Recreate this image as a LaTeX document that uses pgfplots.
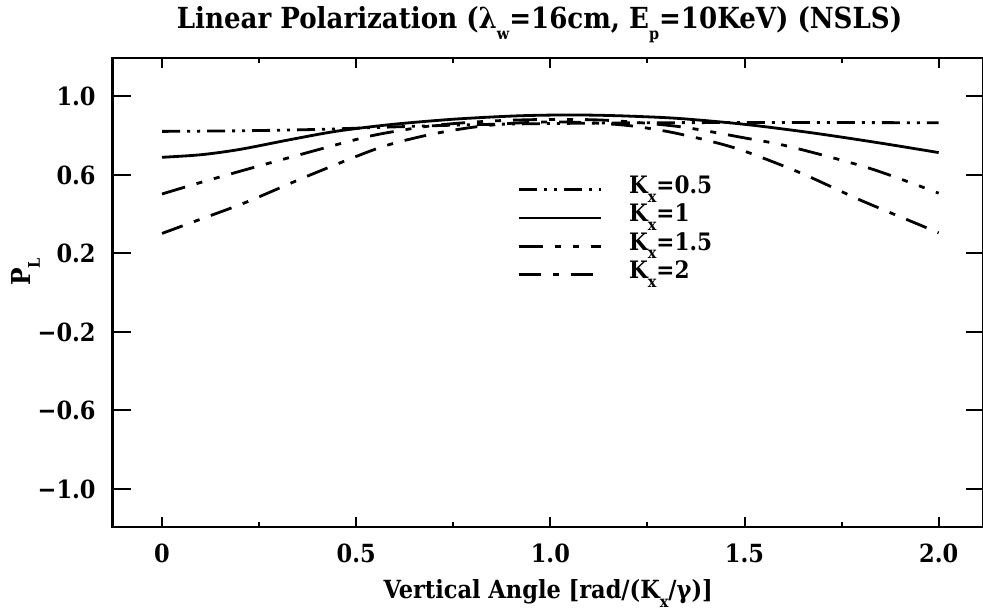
\documentclass[border=0pt]{standalone}
\usepackage{fontspec}
\setmainfont{DejaVu Serif Condensed}
\usepackage{pgfplots}
\pgfplotsset{compat=1.18}
\newcommand{\sub}[1]{\raisebox{-0.7ex}{\footnotesize #1}}
\begin{document}
\bfseries
\begin{tikzpicture}
\begin{axis}[name=ax, scale only axis, width=435.5pt, height=234.5pt,
  xmin=-0.127, xmax=2.116, ymin=-1.194, ymax=1.196,
  axis line style={line width=1.3pt},
  xtick={0,0.5,1,1.5,2}, xticklabels={0,0.5,1.0,1.5,2.0},
  minor xtick={0.25,0.75,1.25,1.75},
  ytick=\empty,
  extra y ticks={-1,-0.6,-0.2,0.2,0.6,1},
  extra y tick labels={−1.0,−0.6,−0.2,0.2,0.6,1.0},
  extra y tick style={major tick length=9pt},
  major tick length=5pt, minor tick length=2.5pt,
  every tick/.style={black, line width=1pt},
  tick align=inside,
  ticklabel style={font=\bfseries\fontsize{12.5}{14}\selectfont},
  xticklabel style={yshift=-5pt},
  yticklabel style={xshift=-5pt},
  title={Linear Polarization (λ\sub{w}=16cm, E\sub{p}=10KeV) (NSLS)},
  title style={font=\bfseries\fontsize{14.5}{16}\selectfont, at={(axis description cs:0.49,1)}, anchor=base, yshift=8.5pt},
  xlabel={Vertical Angle [rad/(K\sub{x}/γ)]},
  xlabel style={font=\bfseries\fontsize{12.5}{14}\selectfont, at={(axis description cs:0.5,0)}, anchor=base, yshift=-35.5pt},
  ylabel={P\sub{L}},
  ylabel style={font=\bfseries\fontsize{13}{15}\selectfont, at={(axis description cs:-0.1,0.544)}, anchor=center, rotate=0},
  legend image code/.code={\draw[#1] (0pt,0pt) -- (41pt,0pt);},
  legend cell align=left,
  legend style={draw=none, fill=none, inner sep=0pt, at={(axis cs:0.914,0.60)}, anchor=north west,
    font=\bfseries\fontsize{12}{14}\selectfont,
    nodes={inner ysep=0pt, inner xsep=0pt, text height=9pt, text depth=5.2pt},
    column sep=13.5pt},
]
\addplot[black, line width=1.4pt, smooth, dash pattern=on 9pt off 3.5pt on 1.5pt off 3.5pt on 1.5pt off 3.5pt] coordinates {
(0,0.822) (0.2,0.825) (0.4,0.832) (0.6,0.845) (0.72,0.852) (0.85,0.858) (1.0,0.862) (1.25,0.866) (1.5,0.867) (1.75,0.867) (2.0,0.866)};
\addlegendentry{K\sub{x}=0.5}
\addplot[black, line width=1.4pt, smooth] coordinates {
(0,0.69) (0.1,0.703) (0.2,0.73) (0.33,0.78) (0.45,0.823) (0.59,0.857) (0.75,0.884) (0.9,0.9) (1.0,0.905) (1.1,0.905) (1.2,0.9) (1.33,0.888) (1.5,0.858) (1.676,0.814) (1.848,0.763) (2.0,0.714)};
\addlegendentry{K\sub{x}=1}
\addplot[black, line width=1.4pt, smooth, dash pattern=on 12pt off 6pt on 3pt off 6pt on 3pt off 6pt] coordinates {
(0,0.503) (0.1,0.562) (0.25,0.646) (0.466,0.763) (0.56,0.808) (0.7,0.852) (0.85,0.875) (1.0,0.883) (1.15,0.878) (1.333,0.846) (1.505,0.787) (1.617,0.744) (1.822,0.634) (2.0,0.507)};
\addlegendentry{K\sub{x}=1.5}
\addplot[black, line width=1.4pt, smooth, dash pattern=on 11pt off 6pt on 3pt off 6pt] coordinates {
(0,0.302) (0.1,0.375) (0.218,0.462) (0.372,0.592) (0.527,0.715) (0.6,0.763) (0.7,0.81) (0.8,0.843) (0.9,0.863) (1.0,0.87) (1.1,0.866) (1.2,0.852) (1.3,0.822) (1.4,0.778) (1.496,0.724) (1.646,0.609) (1.797,0.473) (1.947,0.349) (2.0,0.305)};
\addlegendentry{K\sub{x}=2}
\end{axis}
\pgfresetboundingbox
\path ([xshift=-56.35pt, yshift=-44pt]ax.south west) rectangle ++(491.5pt,307.5pt);
\end{tikzpicture}
\end{document}
